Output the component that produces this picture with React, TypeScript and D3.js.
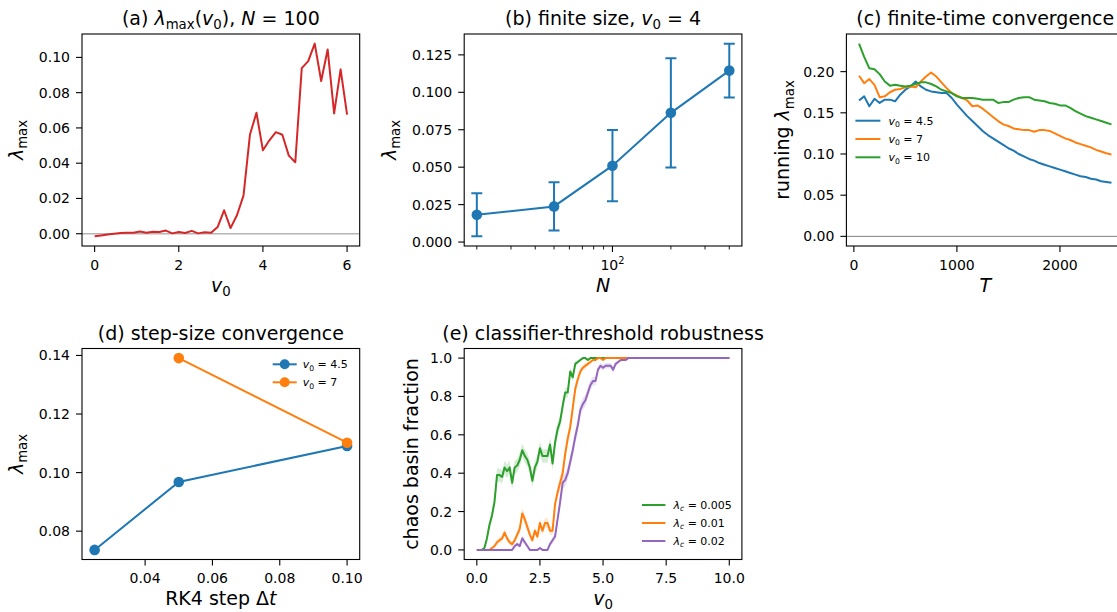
import React from 'react';
import * as d3 from 'd3';

const FONT = '"DejaVu Sans", sans-serif';
const BLUE = '#1f77b4';
const ORANGE = '#ff7f0e';
const GREEN = '#2ca02c';
const RED = '#d62728';
const PURPLE = '#9467bd';

// (a) lambda_max vs v0, N = 100
const V0_A = d3.range(40).map(i => (i * 6) / 39);
const LAMBDA_A = [
  -0.0015, -0.001, -0.0005, 0.0, 0.0004, 0.0006, 0.0006, 0.0013, 0.0006, 0.0011,
  0.001, 0.0018, 0.0002, 0.001, 0.0004, 0.0016, 0.0002, 0.0008, 0.0005, 0.0038,
  0.0133, 0.0032, 0.0106, 0.0216, 0.0563, 0.0686, 0.0473, 0.053, 0.0576, 0.0561,
  0.0443, 0.0405, 0.0939, 0.0979, 0.1078, 0.0866, 0.1045, 0.0682, 0.0932, 0.0676,
];
const XT_A = [0, 2, 4, 6];
const YT_A = [0, 0.02, 0.04, 0.06, 0.08, 0.1];

// (b) finite size
const N_B = [20, 50, 100, 200, 400];
const LAMBDA_B = [0.0182, 0.0238, 0.051, 0.0863, 0.1145];
const ERR_B = [0.0144, 0.0161, 0.0238, 0.0365, 0.018];
const XT_B = [100];
const XMINOR_B = [20, 30, 40, 50, 60, 70, 80, 90, 200, 300, 400];
const YT_B = [0, 0.025, 0.05, 0.075, 0.1, 0.125];

// (c) finite-time convergence
const T_C = d3.range(50, 2501, 50);
const RUN_45 = [
  0.165, 0.17, 0.158, 0.167, 0.162, 0.166, 0.166, 0.164, 0.172, 0.178,
  0.182, 0.188, 0.182, 0.178, 0.176, 0.175, 0.174, 0.174, 0.168, 0.16,
  0.153, 0.146, 0.14, 0.134, 0.128, 0.123, 0.119, 0.115, 0.111, 0.107,
  0.104, 0.1, 0.097, 0.094, 0.092, 0.089, 0.087, 0.085, 0.083, 0.081,
  0.079, 0.077, 0.075, 0.073, 0.072, 0.07, 0.069, 0.067, 0.066, 0.065,
];
const RUN_7 = [
  0.195, 0.186, 0.191, 0.184, 0.169, 0.17, 0.175, 0.178, 0.179, 0.181,
  0.182, 0.181, 0.188, 0.194, 0.199, 0.194, 0.187, 0.18, 0.174, 0.171,
  0.168, 0.165, 0.158, 0.159, 0.155, 0.15, 0.145, 0.14, 0.136, 0.134,
  0.131, 0.13, 0.129, 0.129, 0.127, 0.129, 0.129, 0.128, 0.125, 0.122,
  0.119, 0.117, 0.114, 0.112, 0.11, 0.108, 0.105, 0.103, 0.101, 0.0995,
];
const RUN_10 = [
  0.234, 0.218, 0.204, 0.203, 0.197, 0.188, 0.183, 0.184, 0.183, 0.182,
  0.183, 0.185, 0.187, 0.187, 0.185, 0.182, 0.178, 0.176, 0.174, 0.17,
  0.168, 0.168, 0.168, 0.167, 0.166, 0.166, 0.166, 0.162, 0.163, 0.163,
  0.166, 0.168, 0.169, 0.169, 0.166, 0.165, 0.164, 0.162, 0.161, 0.159,
  0.159, 0.156, 0.152, 0.149, 0.146, 0.144, 0.142, 0.14, 0.138, 0.136,
];
const XT_C = [0, 1000, 2000];
const YT_C = [0, 0.05, 0.1, 0.15, 0.2];

// (d) step-size convergence
const DT_45 = [0.025, 0.05, 0.1];
const LAM_D_45 = [0.0736, 0.0968, 0.1091];
const DT_7 = [0.05, 0.1];
const LAM_D_7 = [0.1391, 0.1102];
const XT_D = [0.04, 0.06, 0.08, 0.1];
const YT_D = [0.08, 0.1, 0.12, 0.14];

// (e) classifier-threshold robustness
const V0_E = d3.range(101).map(i => i / 10);
const FRAC_005 = [
  0, 0, 0, 0.01, 0.06, 0.13, 0.18, 0.25, 0.39, 0.39,
  0.38, 0.43, 0.41, 0.43, 0.35, 0.43, 0.44, 0.47, 0.52, 0.49,
  0.47, 0.43, 0.36, 0.43, 0.46, 0.53, 0.49, 0.49, 0.49, 0.55,
  0.45, 0.56, 0.63, 0.67, 0.75, 0.82, 0.82, 0.93, 0.9, 0.97,
  0.98, 0.99, 1, 1, 0.99, 1, 1, 1, 1, 1,
  1, 1, 1, 1, 1, 1, 1, 1, 1, 1,
  1, 1, 1, 1, 1, 1, 1, 1, 1, 1,
  1, 1, 1, 1, 1, 1, 1, 1, 1, 1,
  1, 1, 1, 1, 1, 1, 1, 1, 1, 1,
  1, 1, 1, 1, 1, 1, 1, 1, 1, 1,
  1,
];
const FRAC_01 = [
  0, 0, 0, 0, 0, 0, 0.01, 0.02, 0.04, 0.05,
  0.06, 0.09, 0.06, 0.04, 0.03, 0.05, 0.08, 0.11, 0.19, 0.16,
  0.12, 0.08, 0.05, 0.1, 0.07, 0.14, 0.1, 0.14, 0.14, 0.1,
  0.1, 0.24, 0.3, 0.35, 0.4, 0.5, 0.58, 0.64, 0.74, 0.84,
  0.89, 0.93, 0.95, 0.96, 0.97, 0.98, 0.99, 0.99, 1, 1,
  0.99, 1, 1, 1, 1, 1, 1, 1, 1, 1,
  1, 1, 1, 1, 1, 1, 1, 1, 1, 1,
  1, 1, 1, 1, 1, 1, 1, 1, 1, 1,
  1, 1, 1, 1, 1, 1, 1, 1, 1, 1,
  1, 1, 1, 1, 1, 1, 1, 1, 1, 1,
  1,
];
const FRAC_02 = [
  0, 0, 0, 0, 0, 0, 0, 0, 0, 0,
  0, 0, 0, 0, 0, 0.02, 0.03, 0.02, 0.06, 0.04,
  0.02, 0, 0, 0, 0, 0.01, 0, 0, 0, 0.03,
  0.05, 0.07, 0.16, 0.25, 0.35, 0.365, 0.4, 0.46, 0.52, 0.59,
  0.65, 0.73, 0.76, 0.78, 0.82, 0.86, 0.88, 0.88, 0.94, 0.96,
  0.95, 0.96, 0.96, 0.96, 0.94, 0.97, 0.98, 0.99, 0.99, 0.99,
  1, 1, 1, 1, 1, 1, 1, 1, 1, 1,
  1, 1, 1, 1, 1, 1, 1, 1, 1, 1,
  1, 1, 1, 1, 1, 1, 1, 1, 1, 1,
  1, 1, 1, 1, 1, 1, 1, 1, 1, 1,
  1,
];
const N_TRIALS = 200; // samples per v0, for the binomial error band
const XT_E = [0, 2.5, 5, 7.5, 10];
const YT_E = [0, 0.2, 0.4, 0.6, 0.8, 1];

// ---------- helpers ----------
type Part = { t: string; i?: boolean; sub?: boolean; sup?: boolean };

const padExtent = (lo: number, hi: number, f = 0.05): [number, number] => [lo - (hi - lo) * f, hi + (hi - lo) * f];

function rich(parts: Part[], size: number) {
  let shift = 0;
  return parts.map((p, k) => {
    const target = p.sub ? size * 0.22 : p.sup ? -size * 0.42 : 0;
    const dy = target - shift;
    shift = target;
    return (
      <tspan key={k} dy={dy} fontStyle={p.i ? 'italic' : 'normal'} fontSize={p.sub || p.sup ? size * 0.7 : size}>
        {p.t}
      </tspan>
    );
  });
}

const LMAX: Part[] = [{ t: 'λ', i: true }, { t: 'max', sub: true }];
const V0: Part[] = [{ t: 'v', i: true }, { t: '0', sub: true }];

const TICK_FS = 14;
const LABEL_FS = 19;
const LEG_FS = 11;

type AxesProps = {
  id: string;
  left: number;
  top: number;
  width: number;
  height: number;
  x: any;
  y: any;
  xTicks: number[];
  yTicks: number[];
  xFmt: (v: number) => React.ReactNode;
  yFmt: (v: number) => string;
  xMinor?: number[];
  title: Part[];
  xlabel: Part[];
  ylabel: Part[];
  ylabelGap: number;
  children?: React.ReactNode;
};

function Axes(p: AxesProps) {
  const { left, top, width, height } = p;
  const bottom = top + height;
  const cx = left + width / 2;
  const cy = top + height / 2;
  return (
    <g>
      <defs>
        <clipPath id={p.id}>
          <rect x={left} y={top} width={width} height={height} />
        </clipPath>
      </defs>
      <g clipPath={`url(#${p.id})`}>{p.children}</g>
      <rect x={left} y={top} width={width} height={height} fill="none" stroke="#000" strokeWidth={1.1} />
      {p.xTicks.map(v => (
        <g key={'xt' + v}>
          <line x1={p.x(v)} x2={p.x(v)} y1={bottom} y2={bottom + 6} stroke="#000" strokeWidth={1.1} />
          <text x={p.x(v)} y={bottom + 23.5} textAnchor="middle" fontSize={TICK_FS}>
            {p.xFmt(v)}
          </text>
        </g>
      ))}
      {(p.xMinor || []).map(v => (
        <line key={'xm' + v} x1={p.x(v)} x2={p.x(v)} y1={bottom} y2={bottom + 3.5} stroke="#000" strokeWidth={0.9} />
      ))}
      {p.yTicks.map(v => (
        <g key={'yt' + v}>
          <line x1={left - 6} x2={left} y1={p.y(v)} y2={p.y(v)} stroke="#000" strokeWidth={1.1} />
          <text x={left - 12} y={p.y(v) + TICK_FS * 0.36} textAnchor="end" fontSize={TICK_FS}>
            {p.yFmt(v)}
          </text>
        </g>
      ))}
      <text x={cx} y={top - 9} textAnchor="middle" fontSize={LABEL_FS} style={{ whiteSpace: 'pre' }}>
        {rich(p.title, LABEL_FS)}
      </text>
      <text x={cx} y={bottom + 45.5} textAnchor="middle" fontSize={LABEL_FS} style={{ whiteSpace: 'pre' }}>
        {rich(p.xlabel, LABEL_FS)}
      </text>
      <text
        transform={`translate(${left - p.ylabelGap},${cy}) rotate(-90)`}
        textAnchor="middle"
        fontSize={LABEL_FS}
        style={{ whiteSpace: 'pre' }}
      >
        {rich(p.ylabel, LABEL_FS)}
      </text>
    </g>
  );
}

type LegendEntry = { color: string; label: Part[]; marker?: boolean };

function Legend({ x, y, entries, lineLen = 24, gap = 8, step = 18 }: { x: number; y: number; entries: LegendEntry[]; lineLen?: number; gap?: number; step?: number }) {
  return (
    <g>
      {entries.map((e, k) => {
        const yy = y + k * step;
        return (
          <g key={k}>
            <line x1={x} x2={x + lineLen} y1={yy} y2={yy} stroke={e.color} strokeWidth={2} />
            {e.marker && <circle cx={x + lineLen / 2} cy={yy} r={5} fill={e.color} />}
            <text x={x + lineLen + gap} y={yy + LEG_FS * 0.36} fontSize={LEG_FS} style={{ whiteSpace: 'pre' }}>
              {rich(e.label, LEG_FS)}
            </text>
          </g>
        );
      })}
    </g>
  );
}

const COLS = [82, 464.2, 846.4];
const AW = 277.7;
const ROWS = [
  { top: 34, h: 212 },
  { top: 348.5, h: 211 },
];

export default function App() {
  // (a)
  const rA = ROWS[0];
  const xA = d3.scaleLinear().domain(padExtent(0, 6)).range([COLS[0], COLS[0] + AW]);
  const yA = d3
    .scaleLinear()
    .domain(padExtent(Math.min(0, d3.min(LAMBDA_A)!), Math.max(0, d3.max(LAMBDA_A)!)))
    .range([rA.top + rA.h, rA.top]);
  const lineA = d3
    .line<number>()
    .x((_, i) => xA(V0_A[i]))
    .y(d => yA(d))(LAMBDA_A);

  // (b)
  const logN = N_B.map(Math.log10);
  const [l0, l1] = padExtent(d3.min(logN)!, d3.max(logN)!);
  const xB = d3.scaleLog().domain([10 ** l0, 10 ** l1]).range([COLS[1], COLS[1] + AW]);
  const yB = d3
    .scaleLinear()
    .domain(padExtent(d3.min(LAMBDA_B.map((m, i) => m - ERR_B[i]))!, d3.max(LAMBDA_B.map((m, i) => m + ERR_B[i]))!))
    .range([rA.top + rA.h, rA.top]);
  const lineB = d3
    .line<number>()
    .x((_, i) => xB(N_B[i]))
    .y(d => yB(d))(LAMBDA_B);

  // (c)
  const xC = d3.scaleLinear().domain(padExtent(d3.min(T_C)!, d3.max(T_C)!)).range([COLS[2], COLS[2] + AW]);
  const yC = d3
    .scaleLinear()
    .domain(padExtent(0, d3.max([...RUN_45, ...RUN_7, ...RUN_10])!))
    .range([rA.top + rA.h, rA.top]);
  const lineC = (vals: number[]) =>
    d3
      .line<number>()
      .x((_, i) => xC(T_C[i]))
      .y(d => yC(d))(vals)!;

  // (d)
  const rD = ROWS[1];
  const allDt = [...DT_45, ...DT_7];
  const allLd = [...LAM_D_45, ...LAM_D_7];
  const xD = d3.scaleLinear().domain(padExtent(d3.min(allDt)!, d3.max(allDt)!)).range([COLS[0], COLS[0] + AW]);
  const yD = d3.scaleLinear().domain(padExtent(d3.min(allLd)!, d3.max(allLd)!)).range([rD.top + rD.h, rD.top]);
  const lineD = (xs: number[], ys: number[]) =>
    d3
      .line<number>()
      .x((_, i) => xD(xs[i]))
      .y(d => yD(d))(ys)!;

  // (e)
  const xE = d3.scaleLinear().domain(padExtent(0, 10)).range([COLS[1], COLS[1] + AW]);
  const yE = d3.scaleLinear().domain(padExtent(0, 1)).range([rD.top + rD.h, rD.top]);
  const lineE = (vals: number[]) =>
    d3
      .line<number>()
      .x((_, i) => xE(V0_E[i]))
      .y(d => yE(d))(vals)!;
  const bandE = (vals: number[]) =>
    d3
      .area<number>()
      .x((_, i) => xE(V0_E[i]))
      .y0(d => yE(d - Math.sqrt((d * (1 - d)) / N_TRIALS)))
      .y1(d => yE(d + Math.sqrt((d * (1 - d)) / N_TRIALS)))(vals)!;

  const f2 = d3.format('.2f');
  const f3 = d3.format('.3f');
  const f1 = d3.format('.1f');

  const seriesE = [
    { vals: FRAC_005, color: GREEN, lab: '0.005' },
    { vals: FRAC_01, color: ORANGE, lab: '0.01' },
    { vals: FRAC_02, color: PURPLE, lab: '0.02' },
  ];

  return (
    <svg
      width={1117}
      height={612}
      style={{ position: 'absolute', left: 0, top: 0, background: '#fff' }}
      fontFamily={FONT}
      fill="#000"
    >
      <rect x={0} y={0} width={1117} height={612} fill="#fff" />

      <Axes
        id="clipA"
        left={COLS[0]}
        top={rA.top}
        width={AW}
        height={rA.h}
        x={xA}
        y={yA}
        xTicks={XT_A}
        yTicks={YT_A}
        xFmt={v => String(v)}
        yFmt={f2}
        title={[{ t: '(a) ' }, ...LMAX, { t: '(' }, ...V0, { t: '), ' }, { t: 'N', i: true }, { t: ' = 100' }]}
        xlabel={V0}
        ylabel={LMAX}
        ylabelGap={59}
      >
        <line x1={COLS[0]} x2={COLS[0] + AW} y1={yA(0)} y2={yA(0)} stroke="#b5b5b5" strokeWidth={1.4} />
        <path d={lineA!} fill="none" stroke={RED} strokeWidth={2} strokeLinejoin="round" />
      </Axes>

      <Axes
        id="clipB"
        left={COLS[1]}
        top={rA.top}
        width={AW}
        height={rA.h}
        x={xB}
        y={yB}
        xTicks={XT_B}
        xMinor={XMINOR_B}
        yTicks={YT_B}
        xFmt={() => rich([{ t: '10' }, { t: '2', sup: true }], TICK_FS)}
        yFmt={f3}
        title={[{ t: '(b) finite size, ' }, ...V0, { t: ' = 4' }]}
        xlabel={[{ t: 'N', i: true }]}
        ylabel={LMAX}
        ylabelGap={68}
      >
        <path d={lineB!} fill="none" stroke={BLUE} strokeWidth={2} />
        {N_B.map((n, i) => (
          <g key={n} stroke={BLUE} strokeWidth={2}>
            <line x1={xB(n)} x2={xB(n)} y1={yB(LAMBDA_B[i] - ERR_B[i])} y2={yB(LAMBDA_B[i] + ERR_B[i])} />
            <line x1={xB(n) - 5.5} x2={xB(n) + 5.5} y1={yB(LAMBDA_B[i] - ERR_B[i])} y2={yB(LAMBDA_B[i] - ERR_B[i])} />
            <line x1={xB(n) - 5.5} x2={xB(n) + 5.5} y1={yB(LAMBDA_B[i] + ERR_B[i])} y2={yB(LAMBDA_B[i] + ERR_B[i])} />
            <circle cx={xB(n)} cy={yB(LAMBDA_B[i])} r={5.3} fill={BLUE} stroke="none" />
          </g>
        ))}
      </Axes>

      <Axes
        id="clipC"
        left={COLS[2]}
        top={rA.top}
        width={AW}
        height={rA.h}
        x={xC}
        y={yC}
        xTicks={XT_C}
        yTicks={YT_C}
        xFmt={v => String(v)}
        yFmt={f2}
        title={[{ t: '(c) finite-time convergence' }]}
        xlabel={[{ t: 'T', i: true }]}
        ylabel={[{ t: 'running ' }, ...LMAX]}
        ylabelGap={57}
      >
        <line x1={COLS[2]} x2={COLS[2] + AW} y1={yC(0)} y2={yC(0)} stroke="#808080" strokeWidth={1} />
        <path d={lineC(RUN_45)} fill="none" stroke={BLUE} strokeWidth={2} strokeLinejoin="round" />
        <path d={lineC(RUN_7)} fill="none" stroke={ORANGE} strokeWidth={2} strokeLinejoin="round" />
        <path d={lineC(RUN_10)} fill="none" stroke={GREEN} strokeWidth={2} strokeLinejoin="round" />
      </Axes>
      <Legend
        x={COLS[2] + 9}
        y={rA.top + 86.7}
        lineLen={25}
        step={18.3}
        entries={[
          { color: BLUE, label: [...V0, { t: ' = 4.5' }] },
          { color: ORANGE, label: [...V0, { t: ' = 7' }] },
          { color: GREEN, label: [...V0, { t: ' = 10' }] },
        ]}
      />

      <Axes
        id="clipD"
        left={COLS[0]}
        top={rD.top}
        width={AW}
        height={rD.h}
        x={xD}
        y={yD}
        xTicks={XT_D}
        yTicks={YT_D}
        xFmt={v => f2(v)}
        yFmt={f2}
        title={[{ t: '(d) step-size convergence' }]}
        xlabel={[{ t: 'RK4 step Δ' }, { t: 't', i: true }]}
        ylabel={LMAX}
        ylabelGap={59}
      >
        <path d={lineD(DT_45, LAM_D_45)} fill="none" stroke={BLUE} strokeWidth={2} />
        {DT_45.map((d, i) => (
          <circle key={'b' + d} cx={xD(d)} cy={yD(LAM_D_45[i])} r={5.3} fill={BLUE} />
        ))}
        <path d={lineD(DT_7, LAM_D_7)} fill="none" stroke={ORANGE} strokeWidth={2} />
        {DT_7.map((d, i) => (
          <circle key={'o' + d} cx={xD(d)} cy={yD(LAM_D_7[i])} r={5.3} fill={ORANGE} />
        ))}
      </Axes>
      <Legend
        x={COLS[0] + AW - 87}
        y={rD.top + 15.8}
        lineLen={24}
        gap={6}
        step={18}
        entries={[
          { color: BLUE, label: [...V0, { t: ' = 4.5' }], marker: true },
          { color: ORANGE, label: [...V0, { t: ' = 7' }], marker: true },
        ]}
      />

      <Axes
        id="clipE"
        left={COLS[1]}
        top={rD.top}
        width={AW}
        height={rD.h}
        x={xE}
        y={yE}
        xTicks={XT_E}
        yTicks={YT_E}
        xFmt={v => f1(v)}
        yFmt={f1}
        title={[{ t: '(e) classifier-threshold robustness' }]}
        xlabel={V0}
        ylabel={[{ t: 'chaos basin fraction' }]}
        ylabelGap={46}
      >
        {seriesE.map(s => (
          <path key={'band' + s.lab} d={bandE(s.vals)} fill={s.color} fillOpacity={0.2} stroke="none" />
        ))}
        {seriesE.map(s => (
          <path key={'line' + s.lab} d={lineE(s.vals)} fill="none" stroke={s.color} strokeWidth={2} strokeLinejoin="round" />
        ))}
      </Axes>
      <Legend
        x={COLS[1] + AW - 100}
        y={rD.top + rD.h - 54.5}
        lineLen={23.5}
        gap={8}
        step={18}
        entries={seriesE.map(s => ({
          color: s.color,
          label: [{ t: 'λ', i: true }, { t: 'c', i: true, sub: true }, { t: ' = ' + s.lab }],
        }))}
      />
    </svg>
  );
}
